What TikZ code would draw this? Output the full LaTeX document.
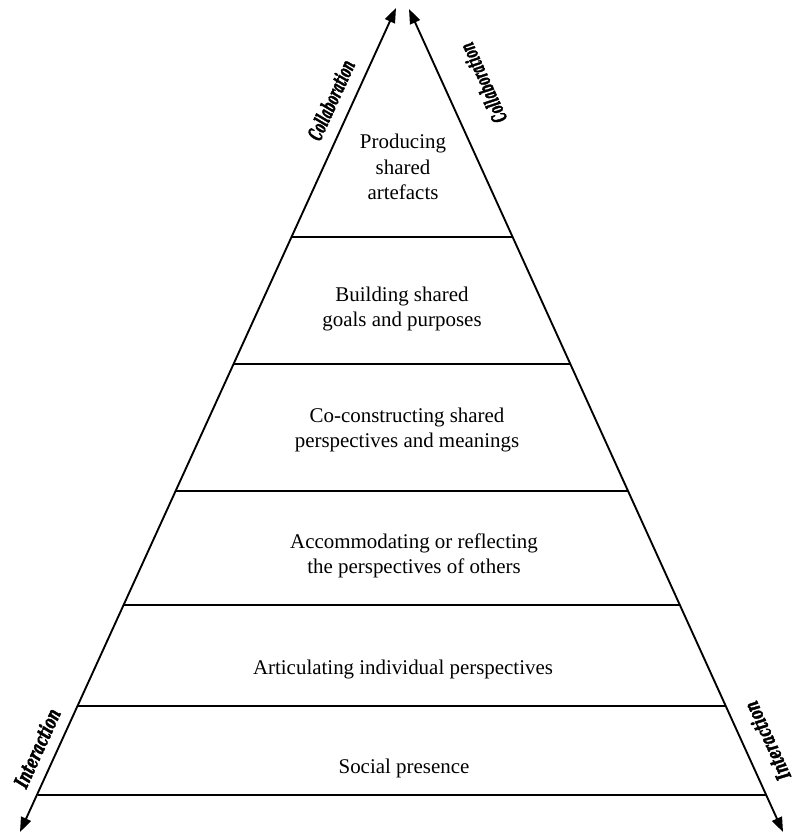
\documentclass[tikz,border=0pt]{standalone}
\usepackage{fontspec}
\setmainfont{Liberation Serif}
\newfontfamily\axisfont[BoldItalicFeatures={FakeBold=2.5}]{DejaVu Serif Condensed}
\usetikzlibrary{arrows.meta}

\tikzset{every picture/.style={line width=1.4pt}}

\begin{document}
\begin{tikzpicture}[x=0.75pt,y=0.75pt,yscale=-1,xscale=1,
	side/.style={{Triangle[length=11pt,width=8pt]}-{Triangle[length=11pt,width=8pt]}},
	tier/.style={line width=1.8pt},
	layer/.style={align=center,inner sep=0pt,font=\fontsize{15.7}{19}\selectfont},
	axis/.style={inner sep=0pt,font=\fontsize{15}{17}\axisfont\bfseries\itshape}]
	\path[use as bounding box] (0,0) rectangle (797,838);

	%Sides of the pyramid
	\coordinate (apexL) at (396,8);
	\coordinate (baseL) at (20,832);
	\coordinate (apexR) at (409,9);
	\coordinate (baseR) at (783,832);
	\draw [side] (apexL) -- (baseL) ;
	\draw [side] (apexR) -- (baseR) ;

	%Straight Lines between the levels
	\foreach \y [count=\i] in {237,364,491,605,706,795} {
		\coordinate (l\i) at ({291-0.454*(\y-237)},\y);
		\coordinate (r\i) at ({513+0.454*(\y-237)},\y);
		\draw [tier] (l\i) -- (r\i) ;
	}

	% Text Node
	\node [layer] (artefacts) at (403,167) {Producing\\shared\\artefacts};
	% Text Node
	\node [layer] (goals) at (402,309) {Building shared\\goals and purposes};
	% Text Node
	\node [layer] (meanings) at (407,430) {Co-constructing shared\\perspectives and meanings};
	% Text Node
	\node [layer] (others) at (414,556) {Accommodating or reflecting\\the perspectives of others};
	% Text Node
	\node [layer] (individual) at (403,669) {Articulating individual perspectives};
	% Text Node
	\node [layer] (presence) at (404,768) {Social presence};

	% Text Node
	\node [axis, rotate=65.5] (collabL) at (331,100) {\scalebox{0.62}[1]{Collaboration}};
	% Text Node
	\node [axis, rotate=114.5] (collabR) at (483,83) {\scalebox{0.62}[1]{Collaboration}};
	% Text Node
	\node [axis, rotate=65.5] (interL) at (37,748) {\scalebox{0.74}[1]{Interaction}};
	% Text Node
	\node [axis, rotate=114.5] (interR) at (767,741) {\scalebox{0.74}[1]{Interaction}};

\end{tikzpicture}
\end{document}
